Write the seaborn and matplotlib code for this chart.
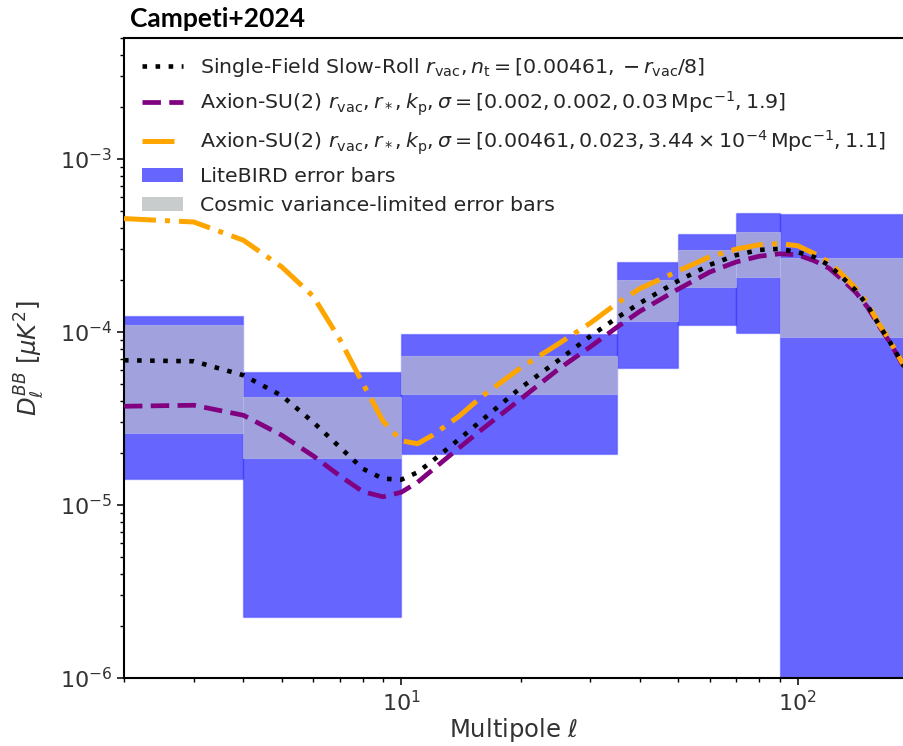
import numpy as np
import pandas as pd
import matplotlib
matplotlib.use("Agg")
import matplotlib.pyplot as plt
from matplotlib.patches import Patch
import seaborn as sns

# ---------------- data ----------------
ell = [2, 3, 4, 5, 6, 7, 8, 9, 10, 11, 12, 14, 16, 20, 25, 30, 35, 40, 50, 60,
       70, 80, 90, 100, 110, 120, 130, 140, 150, 160, 170, 180, 190]

single_field = [6.86e-5, 6.77e-5, 5.62e-5, 4.28e-5, 3.01e-5, 2.16e-5, 1.62e-5, 1.42e-5,
                1.40e-5, 1.545e-5, 1.80e-5, 2.40e-5, 3.10e-5, 4.75e-5, 6.89e-5, 9.46e-5,
                1.208e-4, 1.469e-4, 1.977e-4, 2.443e-4, 2.78e-4, 2.98e-4, 3.02e-4, 2.89e-4,
                2.71e-4, 2.43e-4, 2.05e-4, 1.74e-4, 1.42e-4, 1.105e-4, 8.9e-5, 7.1e-5, 5.7e-5]

axion_a = [3.72e-5, 3.77e-5, 3.30e-5, 2.53e-5, 1.922e-5, 1.475e-5, 1.195e-5, 1.115e-5,
           1.184e-5, 1.353e-5, 1.598e-5, 2.14e-5, 2.74e-5, 4.09e-5, 6.13e-5, 8.21e-5,
           1.065e-4, 1.317e-4, 1.77e-4, 2.22e-4, 2.54e-4, 2.74e-4, 2.83e-4, 2.79e-4,
           2.58e-4, 2.335e-4, 1.99e-4, 1.696e-4, 1.39e-4, 1.093e-4, 8.84e-5, 7.05e-5, 5.62e-5]

axion_b = [4.52e-4, 4.32e-4, 3.39e-4, 2.375e-4, 1.608e-4, 9.07e-5, 5.05e-5, 3.05e-5,
           2.35e-5, 2.26e-5, 2.53e-5, 3.26e-5, 4.25e-5, 6.20e-5, 8.58e-5, 1.126e-4,
           1.465e-4, 1.781e-4, 2.252e-4, 2.72e-4, 3.014e-4, 3.19e-4, 3.24e-4, 3.15e-4,
           2.84e-4, 2.53e-4, 2.127e-4, 1.789e-4, 1.459e-4, 1.118e-4, 9.04e-5, 7.17e-5, 5.77e-5]

bin_lo = [2, 4, 10, 35, 50, 70, 90]
bin_hi = [4, 10, 35, 50, 70, 90, 200]
litebird_lo = [1.41e-5, 2.26e-6, 1.98e-5, 6.19e-5, 1.10e-4, 9.9e-5, 1e-7]
litebird_hi = [1.23e-4, 5.87e-5, 9.7e-5, 2.54e-4, 3.7e-4, 4.9e-4, 4.8e-4]
cv_lo = [2.6e-5, 1.87e-5, 4.36e-5, 1.15e-4, 1.81e-4, 2.08e-4, 9.3e-5]
cv_hi = [1.10e-4, 4.2e-5, 7.3e-5, 1.99e-4, 2.99e-4, 3.76e-4, 2.66e-4]

labels = [
    r"Single-Field Slow-Roll $r_{\rm vac}, n_{\rm t} = [0.00461, -r_{\rm vac}/8]$",
    r"Axion-SU(2) $r_{\rm vac}, r_*, k_{\rm p}, \sigma = [0.002, 0.002, 0.03\,{\rm Mpc}^{-1}, 1.9]$",
    r"Axion-SU(2) $r_{\rm vac}, r_*, k_{\rm p}, \sigma = [0.00461, 0.023, 3.44\times10^{-4}\,{\rm Mpc}^{-1}, 1.1]$",
    "LiteBIRD error bars",
    "Cosmic variance-limited error bars",
]

# ---------------- style ----------------
sns.set_theme(style="ticks")
plt.rcParams["font.family"] = ["DejaVu Sans"]
plt.rcParams["mathtext.fontset"] = "dejavusans"

W, H = 904, 746
fig = plt.figure(figsize=(W / 100, H / 100), dpi=100)
ax = fig.add_axes([124 / W, 68 / H, (W - 124) / W, 640 / H])

ax.set_xscale("log")
ax.set_yscale("log")

bins = pd.DataFrame({"lo": bin_lo, "hi": bin_hi,
                     "lb_lo": litebird_lo, "lb_hi": litebird_hi,
                     "cv_lo": cv_lo, "cv_hi": cv_hi})

ax.bar(bins["lo"], bins["lb_hi"] - bins["lb_lo"], width=bins["hi"] - bins["lo"],
       bottom=bins["lb_lo"], align="edge", color=(0, 0, 1, 0.6),
       edgecolor=(0, 0, 1, 0.25), linewidth=1.0, zorder=1)
ax.bar(bins["lo"], bins["cv_hi"] - bins["cv_lo"], width=bins["hi"] - bins["lo"],
       bottom=bins["cv_lo"], align="edge", color="#a0a1dd",
       edgecolor=(0.85, 0.85, 0.9, 0.4), linewidth=0.8, zorder=1.5)

curves = pd.DataFrame({"ell": ell, "sf": single_field, "a": axion_a, "b": axion_b})

sns.lineplot(data=curves, x="ell", y="sf", ax=ax, color="black", linewidth=3.3,
             linestyle=(0, (1, 1.85)), estimator=None, label=labels[0], zorder=4)
sns.lineplot(data=curves, x="ell", y="a", ax=ax, color="purple", linewidth=3.4,
             linestyle=(0, (3.9, 1.77)), estimator=None, label=labels[1], zorder=3)
sns.lineplot(data=curves, x="ell", y="b", ax=ax, color="orange", linewidth=3.6,
             linestyle=(0, (6.4, 1.8, 1, 1.8)), estimator=None, label=labels[2], zorder=3)

ax.set_xlim(2, 10 ** (2 + (904 - 797.7) / 396.7))
ax.set_ylim(1e-6, 5e-3)

ax.set_xlabel(r"Multipole $\ell$", fontsize=17.5, color=".2", labelpad=1)
ax.set_ylabel(r"$D_\ell^{BB}$ [$\mu K^2$]", fontsize=17.5, color=".2", labelpad=10)

for s in ["left", "bottom", "top"]:
    ax.spines[s].set_linewidth(1.5)
    ax.spines[s].set_color("black")
ax.spines["right"].set_visible(False)
ax.tick_params(which="major", length=5, width=1.1, color="black", labelsize=16,
               labelcolor=".2", direction="out")
ax.tick_params(which="minor", length=3, width=1.0, color="black", direction="out")
ax.tick_params(axis="x", top=False, which="both")

handles, _ = ax.get_legend_handles_labels()
handles = handles[:3] + [Patch(facecolor=(0.4, 0.4, 1.0), edgecolor="none"),
                         Patch(facecolor="#c9cccc", edgecolor="none")]
ax.legend(handles, labels, loc="upper left", frameon=False, fontsize=14.75)

fig.text(130 / W, 1 - 27 / H, "Campeti+2024", fontsize=19, fontweight="bold",
         family="Lato", color="black", va="baseline", ha="left")

fig.savefig("out.png", dpi=100)
